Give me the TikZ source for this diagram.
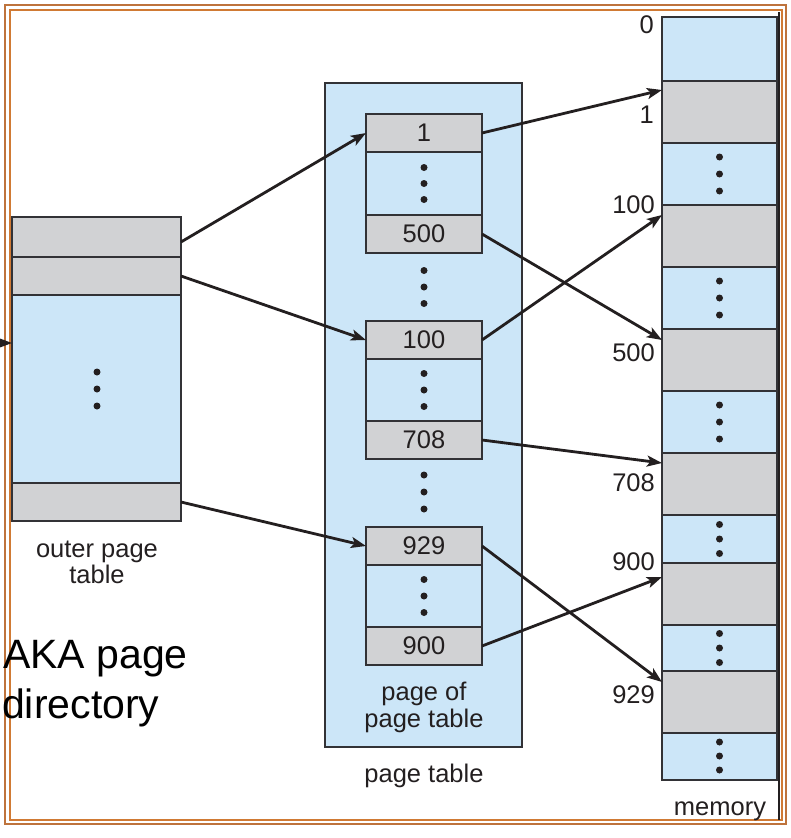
\documentclass[tikz,border=0pt]{standalone}
\usepackage{fontspec}
\setmainfont{Liberation Sans}
\usetikzlibrary{arrows.meta}
\definecolor{cellblue}{RGB}{204,230,248}
\definecolor{cellgray}{RGB}{209,210,212}
\definecolor{edge}{RGB}{50,50,54}
\definecolor{ink}{RGB}{35,31,32}
\definecolor{frameor}{RGB}{208,122,52}
\definecolor{framebr}{RGB}{190,115,60}
\newcommand{\threedots}[3]{\fill[ink] (#1,#2-#3) circle (3.5) (#1,#2) circle (3.5) (#1,#2+#3) circle (3.5);}
\begin{document}
\begin{tikzpicture}[x=1pt,y=-1pt,
  cell/.style={draw=edge, line width=1.5pt, inner sep=0pt, outer sep=0pt, anchor=north west,
    font=\fontsize{25.5}{28}\selectfont, text=ink},
  gcell/.style={cell, fill=cellgray},
  bcell/.style={cell, fill=cellblue},
  mem/.style={minimum width=115pt},
  ent/.style={minimum width=116pt},
  outr/.style={minimum width=169pt},
  arr/.style={draw=ink, line width=2.8pt, -{Stealth[length=15pt,width=11pt,inset=3.5pt]}},
  lbl/.style={font=\fontsize{25.5}{28}\selectfont, text=ink, inner sep=0pt},
  big/.style={font=\fontsize{41}{50}\selectfont, text=black, inner sep=0pt, anchor=base west},
  frameout/.style={draw=framebr, line width=2.2pt},
  framein/.style={draw=frameor, line width=2.2pt},
]
\useasboundingbox (0,0) rectangle (791,838);
% frame
\draw[frameout] (5,5) rectangle (786,824);
\draw[framein] (10,10) rectangle (782,820);
\draw[ink, line width=2.8pt] (779,12) -- (779,820);

% outer page table
\node[gcell, outr, minimum height=40pt] (o1) at (12,217) {};
\node[gcell, outr, minimum height=38pt] (o2) at (12,257) {};
\node[bcell, outr, minimum height=188pt] (ob) at (12,295) {};
\node[gcell, outr, minimum height=38pt] (o4) at (12,483) {};
\threedots{97}{389}{17}
\node[lbl, anchor=base] (ol1) at (97,557) {outer page};
\node[lbl, anchor=base] (ol2) at (97,583) {table};

% page table
\node[draw=edge, fill=cellblue, line width=1.5pt, minimum width=197pt, minimum height=664pt,
  anchor=north west, inner sep=0pt, outer sep=0pt] (pt) at (325,83) {};
\node[gcell, ent, minimum height=38pt] (p1) at (366,114) {1};
\node[bcell, ent, minimum height=63pt] (pd1) at (366,152) {};
\node[gcell, ent, minimum height=38pt] (p500) at (366,215) {500};
\node[gcell, ent, minimum height=38pt] (p100) at (366,321) {100};
\node[bcell, ent, minimum height=62pt] (pd2) at (366,359) {};
\node[gcell, ent, minimum height=38pt] (p708) at (366,421) {708};
\node[gcell, ent, minimum height=38pt] (p929) at (366,527) {929};
\node[bcell, ent, minimum height=62pt] (pd3) at (366,565) {};
\node[gcell, ent, minimum height=38pt] (p900) at (366,627) {900};
\threedots{424}{183.5}{16}
\threedots{424}{287}{16.5}
\threedots{424}{390}{16.5}
\threedots{424}{492}{17}
\threedots{424}{596}{16.5}
\node[lbl, anchor=base] (pl1) at (424,700) {page of};
\node[lbl, anchor=base] (pl2) at (424,727) {page table};
\node[lbl, anchor=base] (ptl) at (424,782) {page table};

% memory
\node[bcell, mem, minimum height=64pt] (m0) at (662,17) {};
\node[gcell, mem, minimum height=62pt] (m1) at (662,81) {};
\node[bcell, mem, minimum height=62pt] (md1) at (662,143) {};
\node[gcell, mem, minimum height=62pt] (m100) at (662,205) {};
\node[bcell, mem, minimum height=62pt] (md2) at (662,267) {};
\node[gcell, mem, minimum height=62pt] (m500) at (662,329) {};
\node[bcell, mem, minimum height=62pt] (md3) at (662,391) {};
\node[gcell, mem, minimum height=62pt] (m708) at (662,453) {};
\node[bcell, mem, minimum height=48pt] (md4) at (662,515) {};
\node[gcell, mem, minimum height=62pt] (m900) at (662,563) {};
\node[bcell, mem, minimum height=46pt] (md5) at (662,625) {};
\node[gcell, mem, minimum height=62pt] (m929) at (662,671) {};
\node[bcell, mem, minimum height=47pt] (md6) at (662,733) {};
\threedots{719.5}{174}{17}
\threedots{719.5}{298}{17}
\threedots{719.5}{422}{17}
\threedots{719.5}{539}{14.5}
\threedots{719.5}{648}{14.5}
\threedots{719.5}{756}{14}
\node[lbl, anchor=base east] (l0) at (654,33) {0};
\node[lbl, anchor=base east] (l1) at (654,123) {1};
\node[lbl, anchor=base east] (l100) at (655,213) {100};
\node[lbl, anchor=base east] (l500) at (655,361) {500};
\node[lbl, anchor=base east] (l708) at (655,491) {708};
\node[lbl, anchor=base east] (l900) at (655,570) {900};
\node[lbl, anchor=base east] (l929) at (655,703) {929};
\node[lbl, anchor=base] (lmem) at (720,815) {memory};

% arrows
\coordinate (src) at (-30,343);
\draw[arr] (src) -- ([yshift=46pt]ob.west);
\draw[arr] ([yshift=-5pt]o1.east) -- (p1.west);
\draw[arr] (o2.east) -- (p100.west);
\draw[arr] (o4.east) -- (p929.west);
\draw[arr] (p1.east) -- ([yshift=-9pt]m1.north west);
\draw[arr] (p500.east) -- ([yshift=-11pt]m500.north west);
\draw[arr] (p100.east) -- ([yshift=-10pt]m100.north west);
\draw[arr] (p708.east) -- ([yshift=-10pt]m708.north west);
\draw[arr] (p929.east) -- ([yshift=-11pt]m929.north west);
\draw[arr] (p900.east) -- ([yshift=-14pt]m900.north west);

% side note
\node[big] (aka1) at (3,668) {AKA page};
\node[big] (aka2) at (2,718) {directory};
\end{tikzpicture}
\end{document}
